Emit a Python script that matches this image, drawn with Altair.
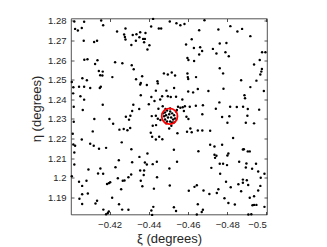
import altair as alt
import pandas as pd

# ---- point positions (degrees), grouped by region ----
xi_nw = [-0.4020, -0.4070, -0.4157, -0.4167, -0.4422, -0.4024, -0.4038, -0.4058, -0.4238, -0.4281,
         -0.4274, -0.4281, -0.4278, -0.4318, -0.4337, -0.4356, -0.4383, -0.4352, -0.4371, -0.4380,
         -0.4376, -0.4334, -0.4311, -0.4403, -0.4393, -0.4412, -0.4451, -0.4463, -0.4068, -0.4121,
         -0.4136, -0.4071, -0.4087, -0.4138, -0.4126, -0.4228, -0.4265, -0.4313, -0.4323, -0.4145,
         -0.4165, -0.4163, -0.4152, -0.4214, -0.4061, -0.4084, -0.4335, -0.4366, -0.4444, -0.4477,
         -0.4497, -0.4007, -0.4359]
eta_nw = [1.2797, 1.2795, 1.2802, 1.2778, 1.2810, 1.2759, 1.2751, 1.2764, 1.2746, 1.2761,
          1.2730, 1.2705, 1.2718, 1.2728, 1.2732, 1.2742, 1.2738, 1.2716, 1.2708, 1.2708,
          1.2691, 1.2698, 1.2677, 1.2676, 1.2654, 1.2771, 1.2761, 1.2761, 1.2698, 1.2692,
          1.2698, 1.2602, 1.2604, 1.2599, 1.2580, 1.2589, 1.2584, 1.2573, 1.2553, 1.2544,
          1.2541, 1.2521, 1.2522, 1.2513, 1.2507, 1.2497, 1.2502, 1.2517, 1.2492, 1.2532,
          1.2526, 1.2488, 1.2483]

xi_ne = [-0.4507, -0.4541, -0.4561, -0.4582, -0.4684, -0.4657, -0.4755, -0.4816, -0.4852, -0.4876,
         -0.4918, -0.4619, -0.4590, -0.4630, -0.4662, -0.4672, -0.4657, -0.4727, -0.4762, -0.4796,
         -0.4745, -0.4791, -0.4808, -0.4597, -0.4602, -0.4631, -0.4978, -0.4995, -0.4966, -0.4937,
         -0.4762, -0.4779, -0.4977, -0.4974, -0.4969, -0.4517, -0.4534, -0.4597, -0.4599, -0.4601,
         -0.4641, -0.4871, -0.4949]
eta_ne = [1.2797, 1.2788, 1.2778, 1.2784, 1.2803, 1.2752, 1.2756, 1.2773, 1.2746, 1.2759,
          1.2722, 1.2706, 1.2679, 1.2662, 1.2665, 1.2646, 1.2628, 1.2657, 1.2684, 1.2687,
          1.2633, 1.2640, 1.2619, 1.2611, 1.2600, 1.2595, 1.2640, 1.2640, 1.2600, 1.2577,
          1.2558, 1.2532, 1.2554, 1.2541, 1.2526, 1.2537, 1.2521, 1.2531, 1.2513, 1.2503,
          1.2513, 1.2497, 1.2495]

xi_w = [-0.4015, -0.4044, -0.4070, -0.4101, -0.4150, -0.4155, -0.4356, -0.4390, -0.4446, -0.4436,
        -0.4490, -0.4014, -0.4051, -0.4070, -0.4359, -0.4468, -0.4497, -0.4413, -0.4458, -0.4429,
        -0.4400, -0.4165, -0.4321, -0.4017, -0.4063, -0.4351, -0.4315, -0.4449, -0.4485, -0.4283,
        -0.4306, -0.4415, -0.4436, -0.4122, -0.4199, -0.4299, -0.4017, -0.4218, -0.4446, -0.4459,
        -0.4420, -0.4437, -0.4272, -0.4291, -0.4305, -0.4250, -0.4114, -0.4012, -0.4410, -0.4417,
        -0.4453, -0.4436, -0.4469, -0.4262, -0.4058, -0.4101, -0.4119, -0.4015, -0.4024, -0.4146,
        -0.4311, -0.4182]
eta_w = [1.2461, 1.2464, 1.2464, 1.2457, 1.2457, 1.2464, 1.2475, 1.2473, 1.2481, 1.2444,
         1.2444, 1.2430, 1.2415, 1.2398, 1.2420, 1.2415, 1.2415, 1.2411, 1.2399, 1.2391,
         1.2375, 1.2372, 1.2372, 1.2362, 1.2345, 1.2350, 1.2340, 1.2352, 1.2350, 1.2311,
         1.2316, 1.2314, 1.2316, 1.2299, 1.2299, 1.2296, 1.2285, 1.2275, 1.2301, 1.2294,
         1.2265, 1.2268, 1.2248, 1.2242, 1.2253, 1.2245, 1.2236, 1.2224, 1.2229, 1.2209,
         1.2209, 1.2195, 1.2196, 1.2180, 1.2195, 1.2173, 1.2163, 1.2169, 1.2163, 1.2147,
         1.2145, 1.2152]

xi_e = [-0.4529, -0.4601, -0.4626, -0.4650, -0.4704, -0.4781, -0.4918, -0.4987, -0.4888, -0.4891,
        -0.4512, -0.4539, -0.4571, -0.4760, -0.4609, -0.4640, -0.4676, -0.4742, -0.4815, -0.4849,
        -0.4881, -0.4905, -0.4963, -0.4549, -0.4561, -0.4573, -0.4584, -0.4543, -0.4579, -0.4592,
        -0.4602, -0.4673, -0.4774, -0.4811, -0.4903, -0.4801, -0.4895, -0.4937, -0.4504, -0.4515,
        -0.4546, -0.4612, -0.4619, -0.4595, -0.4650, -0.4673, -0.4713, -0.4830, -0.4713, -0.4735,
        -0.4774, -0.4885]
eta_e = [1.2457, 1.2440, 1.2435, 1.2452, 1.2442, 1.2454, 1.2462, 1.2442, 1.2420, 1.2405,
         1.2411, 1.2413, 1.2399, 1.2384, 1.2362, 1.2367, 1.2369, 1.2352, 1.2362, 1.2360,
         1.2362, 1.2350, 1.2347, 1.2362, 1.2357, 1.2359, 1.2364, 1.2345, 1.2340, 1.2311,
         1.2299, 1.2323, 1.2309, 1.2313, 1.2316, 1.2280, 1.2280, 1.2277, 1.2251, 1.2265,
         1.2227, 1.2251, 1.2232, 1.2234, 1.2241, 1.2241, 1.2239, 1.2202, 1.2168, 1.2159,
         1.2168, 1.2145]

xi_sw = [-0.4020, -0.4352, -0.4393, -0.4020, -0.4247, -0.4315, -0.4380, -0.4390, -0.4420, -0.4441,
         -0.4505, -0.4092, -0.4153, -0.4230, -0.4141, -0.4167, -0.4356, -0.4376, -0.4374, -0.4310,
         -0.4296, -0.4242, -0.4442, -0.4007, -0.4044, -0.4082, -0.4187, -0.4196, -0.4203, -0.4267,
         -0.4276, -0.4359, -0.4367, -0.4060, -0.4259, -0.4426, -0.4507, -0.4089, -0.4060, -0.4213,
         -0.4046, -0.4136, -0.4128, -0.4060, -0.4248, -0.4423, -0.4168, -0.4264, -0.4296, -0.4413,
         -0.4196, -0.4191, -0.4182, -0.4417]
eta_sw = [1.2128, 1.2106, 1.2123, 1.2067, 1.2089, 1.2079, 1.2077, 1.2067, 1.2069, 1.2081,
          1.2047, 1.2042, 1.2047, 1.2053, 1.2021, 1.2020, 1.2036, 1.2036, 1.2014, 1.2016,
          1.2002, 1.1997, 1.2002, 1.2007, 1.1979, 1.1984, 1.1968, 1.1972, 1.1977, 1.1984,
          1.1985, 1.1984, 1.1956, 1.1958, 1.1941, 1.1944, 1.1960, 1.1919, 1.1915, 1.1897,
          1.1892, 1.1882, 1.1868, 1.1866, 1.1864, 1.1851, 1.1837, 1.1837, 1.1836, 1.1832,
          1.1827, 1.1820, 1.1813, 1.1810]

xi_se = [-0.4528, -0.4653, -0.4735, -0.4745, -0.4738, -0.4806, -0.4801, -0.4880, -0.4905, -0.4915,
         -0.4544, -0.4762, -0.4779, -0.4799, -0.4861, -0.4898, -0.4947, -0.4895, -0.4927, -0.4958,
         -0.4719, -0.4764, -0.4990, -0.4880, -0.4900, -0.4880, -0.4794, -0.4857, -0.4907, -0.4971,
         -0.4969, -0.4645, -0.4633, -0.4818, -0.4755, -0.4604, -0.4679, -0.4871, -0.4747, -0.4709,
         -0.4958, -0.4937, -0.4786, -0.4806, -0.4839, -0.4915, -0.4990, -0.4528, -0.4539, -0.4650,
         -0.4676, -0.4670, -0.4645, -0.4929, -0.4937, -0.4949, -0.4908, -0.4923]
eta_se = [1.2142, 1.2135, 1.2117, 1.2112, 1.2101, 1.2123, 1.2113, 1.2144, 1.2134, 1.2134,
          1.2081, 1.2071, 1.2071, 1.2064, 1.2081, 1.2072, 1.2071, 1.2052, 1.2045, 1.2031,
          1.2050, 1.2020, 1.2020, 1.1990, 1.1987, 1.1974, 1.1979, 1.1966, 1.1963, 1.1999,
          1.1958, 1.1961, 1.1953, 1.1951, 1.1941, 1.1933, 1.1934, 1.1931, 1.1922, 1.1917,
          1.1934, 1.1905, 1.1895, 1.1871, 1.1863, 1.1897, 1.1851, 1.1849, 1.1830, 1.1864,
          1.1836, 1.1825, 1.1812, 1.1859, 1.1861, 1.1861, 1.1812, 1.1813]

xi_core = [-0.4483, -0.4493, -0.4509, -0.4519, -0.4529, -0.4488, -0.4498, -0.4514, -0.4524, -0.4483,
           -0.4493, -0.4509, -0.4519, -0.4478, -0.4504, -0.4534, -0.4473, -0.4509, -0.4488, -0.4529,
           -0.4471, -0.4539]
eta_core = [1.2333, 1.2343, 1.2338, 1.2328, 1.2318, 1.2318, 1.2307, 1.2307, 1.2297, 1.2297,
            1.2287, 1.2287, 1.2282, 1.2313, 1.2323, 1.2302, 1.2328, 1.2353, 1.2277, 1.2282,
            1.2364, 1.2338]

ring_xi = [-0.4506]
ring_eta = [1.2313]

x_ticks = [-0.42, -0.44, -0.46, -0.48, -0.5]
y_ticks = [1.19, 1.2, 1.21, 1.22, 1.23, 1.24, 1.25, 1.26, 1.27, 1.28]
x_domain = [-0.5003, -0.4003]
y_domain = [1.1812, 1.2812]

xi = xi_nw + xi_ne + xi_w + xi_e + xi_sw + xi_se + xi_core
eta = eta_nw + eta_ne + eta_w + eta_e + eta_sw + eta_se + eta_core
pts = pd.DataFrame({"xi": xi, "eta": eta})
ring = pd.DataFrame({"xi": ring_xi, "eta": ring_eta})

INK = "#262626"
FONT = "Liberation Sans"

xscale = alt.Scale(domain=x_domain, reverse=True, nice=False, zero=False)
yscale = alt.Scale(domain=y_domain, nice=False, zero=False)

common = dict(domain=False, grid=False, tickSize=3, offset=-3, tickColor=INK, tickWidth=0.8)

points = alt.Chart(pts).mark_circle(size=6, color="black", opacity=1).encode(
    x=alt.X("xi:Q", scale=xscale,
            axis=alt.Axis(orient="bottom", values=x_ticks, format=".2~f",
                          labelFont=FONT, labelFontSize=9.5, labelColor=INK, labelPadding=5,
                          title="ξ (degrees)", titleFont=FONT, titleFontSize=13,
                          titleFontWeight="normal", titleColor=INK, titlePadding=3,
                          **common)),
    y=alt.Y("eta:Q", scale=yscale,
            axis=alt.Axis(orient="left", values=y_ticks, format=".2~f",
                          labelFont=FONT, labelFontSize=9.5, labelColor=INK, labelPadding=5,
                          title="η (degrees)", titleFont=FONT, titleFontSize=13,
                          titleFontWeight="normal", titleColor=INK, titlePadding=4,
                          titleY=90, **common)),
)

circle = alt.Chart(ring).mark_point(shape="circle", filled=False, size=250,
                                    color="#ff0000", strokeWidth=1.8, opacity=1).encode(
    x=alt.X("xi:Q", scale=xscale,
            axis=alt.Axis(orient="top", values=x_ticks, labels=False, title="", **common)),
    y=alt.Y("eta:Q", scale=yscale,
            axis=alt.Axis(orient="right", values=y_ticks, labels=False, title="", **common)),
)

chart = alt.layer(points, circle).resolve_axis(x="independent", y="independent").properties(
    width=196, height=196,
    autosize=alt.AutoSizeParams(type="none"),
    padding={"left": 63, "top": 10.5, "right": 52, "bottom": 50},
    background="white",
).configure_view(stroke=INK, strokeWidth=0.8)

chart.save("out.html", embed_options={"renderer": "svg", "actions": False})
